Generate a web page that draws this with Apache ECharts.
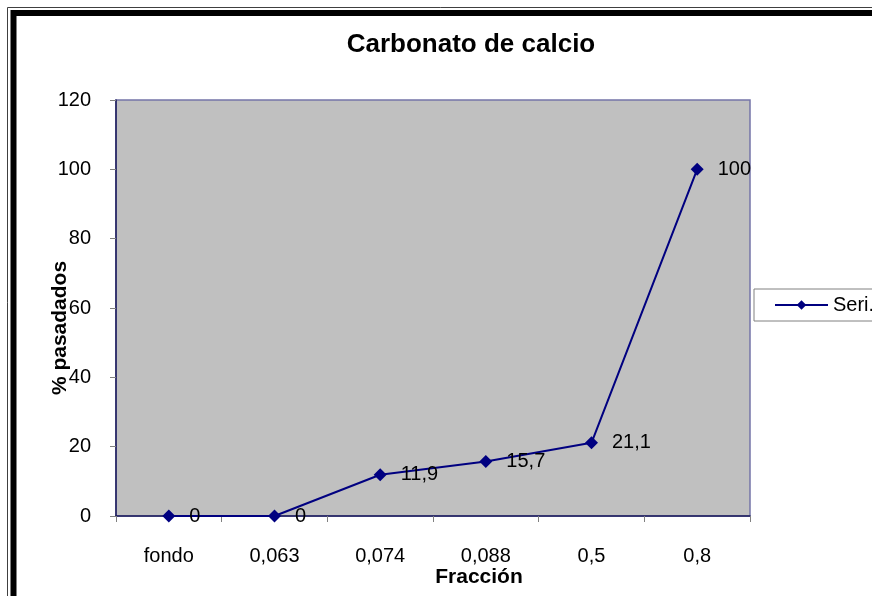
<!DOCTYPE html>
<html>
<head>
<meta charset="utf-8">
<script src="https://cdn.jsdelivr.net/npm/echarts@6/dist/echarts.min.js"></script>
<style>
  html, body { margin: 0; padding: 0; background: #ffffff; }
  #chart { width: 872px; height: 596px; }
</style>
</head>
<body>
<div id="chart"></div>
<script>
// Sieve fractions and cumulative percentage passing
const categories = ['fondo', '0,063', '0,074', '0,088', '0,5', '0,8'];
const pasados = [0, 0, 11.9, 15.7, 21.1, 100];
const yTicks = [0, 20, 40, 60, 80, 100, 120];
const seriesName = 'Seri.';
const chartTitle = 'Carbonato de calcio';
const xName = 'Fracción';
const yName = '% pasadados';

const FONT = '"Liberation Sans", Arial, sans-serif';
const chart = echarts.init(document.getElementById('chart'), null, { renderer: 'canvas' });

chart.setOption({
  backgroundColor: '#ffffff',
  animation: false,
  grid: {
    left: 116, top: 100, width: 634, height: 416,
    show: true, backgroundColor: '#c0c0c0', borderColor: '#7474a8', borderWidth: 1.5
  },
  legend: {
    left: 754, top: 289,
    data: [seriesName],
    itemWidth: 53, itemHeight: 12, itemGap: 4,
    padding: [6, 60, 6, 20],
    borderColor: '#808080', borderWidth: 1, borderRadius: 0,
    backgroundColor: '#ffffff',
    textStyle: { fontFamily: FONT, fontSize: 20, color: '#000', padding: [0, 0, 0, 0] }
  },
  xAxis: {
    type: 'category',
    data: categories,
    boundaryGap: true,
    axisLine: { show: true, lineStyle: { color: '#1a1a5a', width: 1.5 } },
    axisTick: { show: true, length: 6, inside: false, lineStyle: { color: '#808080' } },
    axisLabel: { fontFamily: FONT, fontSize: 20, color: '#000', margin: 30 },
    splitLine: { show: false }
  },
  yAxis: {
    type: 'value',
    min: yTicks[0], max: yTicks[yTicks.length - 1], interval: 20,
    axisLine: { show: true, lineStyle: { color: '#1a1a5a', width: 1.5 } },
    axisTick: { show: true, length: 6, lineStyle: { color: '#808080' } },
    axisLabel: { fontFamily: FONT, fontSize: 20, color: '#000', margin: 25 },
    splitLine: { show: false }
  },
  series: [{
    name: seriesName,
    type: 'line',
    data: pasados,
    color: '#000080',
    lineStyle: { color: '#000080', width: 2 },
    symbol: 'diamond', symbolSize: 13,
    itemStyle: { color: '#000080' },
    label: {
      show: true, position: 'right', distance: 14,
      fontFamily: FONT, fontSize: 20, color: '#000',
      formatter: p => String(p.value).replace('.', ',')
    }
  }],
  graphic: [
    // chart title and axis titles, centred on the chart area
    { type: 'text', silent: true, x: 471, y: 45,
      style: { text: chartTitle, font: 'bold 26px ' + FONT, fill: '#000',
               align: 'center', verticalAlign: 'middle' } },
    { type: 'text', silent: true, x: 479, y: 577,
      style: { text: xName, font: 'bold 21px ' + FONT, fill: '#000',
               align: 'center', verticalAlign: 'middle' } },
    { type: 'text', silent: true, x: 60, y: 328, rotation: Math.PI / 2,
      style: { text: yName, font: 'bold 21px ' + FONT, fill: '#000',
               align: 'center', verticalAlign: 'middle' } },
    // double frame around the chart area
    { type: 'rect', silent: true, z: 100,
      shape: { x: 7.5, y: 7.5, width: 900, height: 620 },
      style: { fill: 'none', stroke: '#404040', lineWidth: 1 } },
    { type: 'rect', silent: true, z: 100,
      shape: { x: 13.5, y: 13, width: 900, height: 620 },
      style: { fill: 'none', stroke: '#000000', lineWidth: 6 } }
  ]
});
</script>
</body>
</html>
